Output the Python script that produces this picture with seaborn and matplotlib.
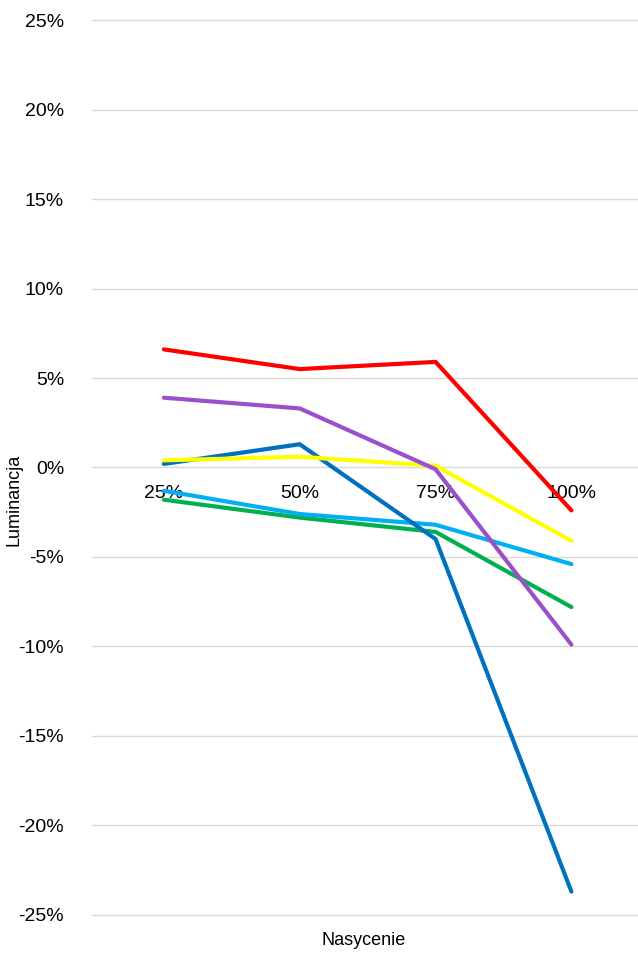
import matplotlib
matplotlib.use("Agg")
import matplotlib.pyplot as plt
import seaborn as sns
import pandas as pd

categories = ["25%", "50%", "75%", "100%"]
red = [6.6, 5.5, 5.9, -2.4]
purple = [3.9, 3.3, -0.1, -9.9]
yellow = [0.4, 0.6, 0.1, -4.1]
blue = [0.2, 1.3, -4.0, -23.7]
lightblue = [-1.3, -2.6, -3.2, -5.4]
green = [-1.8, -2.8, -3.6, -7.8]

series = {"green": (green, "#00b050"), "lightblue": (lightblue, "#00b0f0"),
          "blue": (blue, "#0070c0"), "yellow": (yellow, "#ffff00"),
          "purple": (purple, "#9b4fcb"), "red": (red, "#ff0000")}

rows = []
for name, (vals, c) in series.items():
    for i, v in enumerate(vals):
        rows.append({"s": name, "x": i, "y": v})
df = pd.DataFrame(rows)

sns.set_style("white")
plt.rcParams["font.family"] = ["Calibri", "Liberation Sans", "DejaVu Sans"]
plt.rcParams["text.color"] = "black"
plt.rcParams["ytick.color"] = "black"
fig = plt.figure(figsize=(6.38, 9.57), dpi=100)
ax = fig.add_axes([0.144, 0.044, 0.856, 0.935])
for v in range(-25, 26, 5):
    ax.axhline(v, color="#d9d9d9", lw=1, zorder=0, clip_on=False)
sns.lineplot(data=df, x="x", y="y", hue="s",
             palette={k: c for k, (v, c) in series.items()},
             hue_order=list(series.keys()), lw=3, legend=False, ax=ax, zorder=3)
ax.set_xlim(-0.53, 3.49)
ax.set_ylim(-25, 25)
ax.set_yticks(range(-25, 26, 5))
ax.set_yticklabels([f"{v}%" for v in range(-25, 26, 5)], fontsize=14)
ax.set_xticks([])
for i, c in enumerate(categories):
    ax.text(i, -1.0, c, ha="center", va="top", fontsize=14, zorder=2)
for s in ax.spines.values():
    s.set_visible(False)
ax.tick_params(axis="y", length=0, pad=20)
ax.set_xlabel("")
ax.set_ylabel("")
fig.text(0.57, 0.013, "Nasycenie", ha="center", fontsize=13)
fig.text(0.022, 0.478, "Luminancja", rotation=90, va="center", ha="center", fontsize=13)
fig.savefig("out.png", dpi=100)
